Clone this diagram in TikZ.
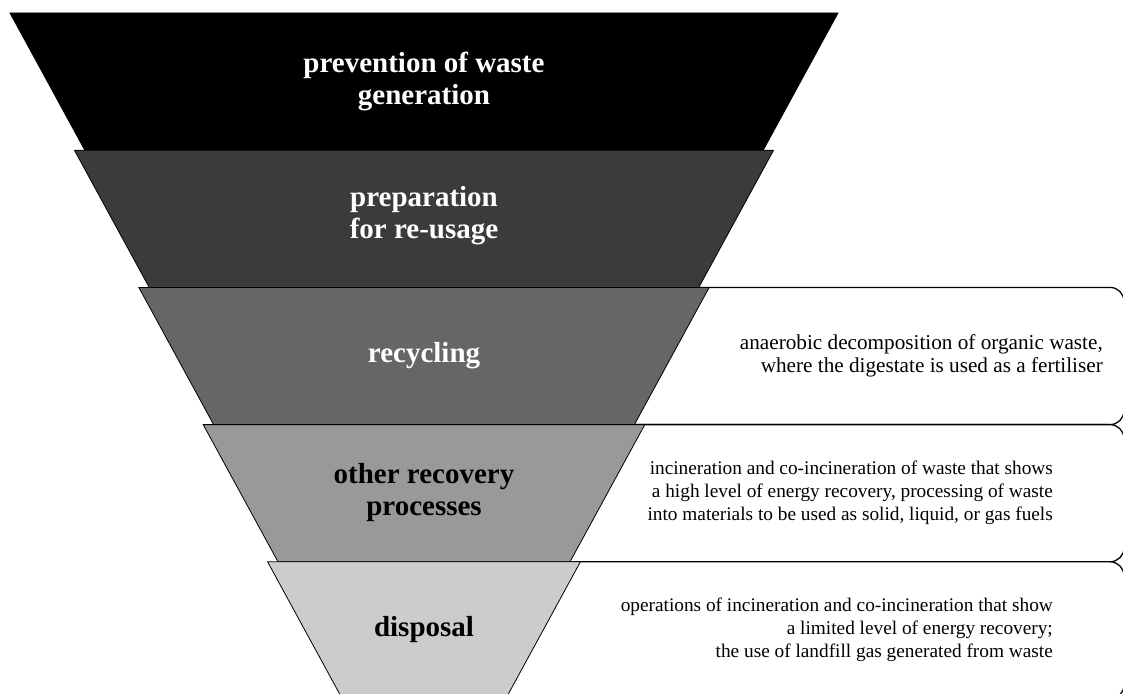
\documentclass[tikz,border=0pt]{standalone}
\usepackage{fontspec}
\setmainfont{Liberation Serif}
\begin{document}
\begin{tikzpicture}[x=1pt,y=-1pt,
  layer/.style={draw=black, line width=0.8pt},
  lbl/.style={font=\fontsize{29}{32}\selectfont\bfseries, align=center, inner sep=0pt},
  note/.style={font=\fontsize{19.3}{23}\selectfont, align=right, inner sep=0pt, anchor=east},
  callout/.style={draw=black, line width=1.3pt, rounded corners=14pt, fill=white}]
\definecolor{lay1}{HTML}{000000}
\definecolor{lay2}{HTML}{3B3B3B}
\definecolor{lay3}{HTML}{666666}
\definecolor{lay4}{HTML}{999999}
\definecolor{lay5}{HTML}{CCCCCC}
\useasboundingbox (0,0) rectangle (1123,693);
\begin{scope}
\clip (0,0) rectangle (1123,693);
% callout boxes (left parts hidden behind the funnel)
\draw[callout] (560,287.4) rectangle (1124,424.6);
\draw[callout] (480,424.6) rectangle (1124,561.8);
\draw[callout] (400,561.8) rectangle (1124,699);
% funnel layers
\draw[layer, fill=lay1] (10,13) -- (838,13) -- (763.2,150.2) -- (84.8,150.2) -- cycle;
\draw[layer, fill=lay2] (74.4,150.2) -- (773.6,150.2) -- (698.8,287.4) -- (149.2,287.4) -- cycle;
\draw[layer, fill=lay3] (138.8,287.4) -- (709.2,287.4) -- (634.4,424.6) -- (213.6,424.6) -- cycle;
\draw[layer, fill=lay4] (203.2,424.6) -- (644.8,424.6) -- (570,561.8) -- (278,561.8) -- cycle;
\draw[layer, fill=lay5] (267.6,561.8) -- (580.4,561.8) -- (505.6,699) -- (342.4,699) -- cycle;
\end{scope}
% labels
\node[lbl, text=white] (l1) at (424,81) {prevention of waste\\generation};
\node[lbl, text=white] (l2) at (424,216) {preparation\\for re-usage};
\node[lbl, text=white] (l3) at (424,356) {recycling};
\node[lbl, text=black] (l4) at (424,493) {other recovery\\processes};
\node[lbl, text=black] (l5) at (424,630) {disposal};
% notes
\node[note, font=\fontsize{21.2}{22.5}\selectfont] (n1) at (1103,356) {anaerobic decomposition of organic waste,\\where the digestate is used as a fertiliser};
\node[note] (n2) at (1053,493) {incineration and co-incineration of waste that shows\\a high level of energy recovery, processing of waste\\into materials to be used as solid, liquid, or gas fuels};
\node[note] (n3) at (1053,630) {operations of incineration and co-incineration that show\\a limited level of energy recovery;\\the use of landfill gas generated from waste};
\end{tikzpicture}
\end{document}
